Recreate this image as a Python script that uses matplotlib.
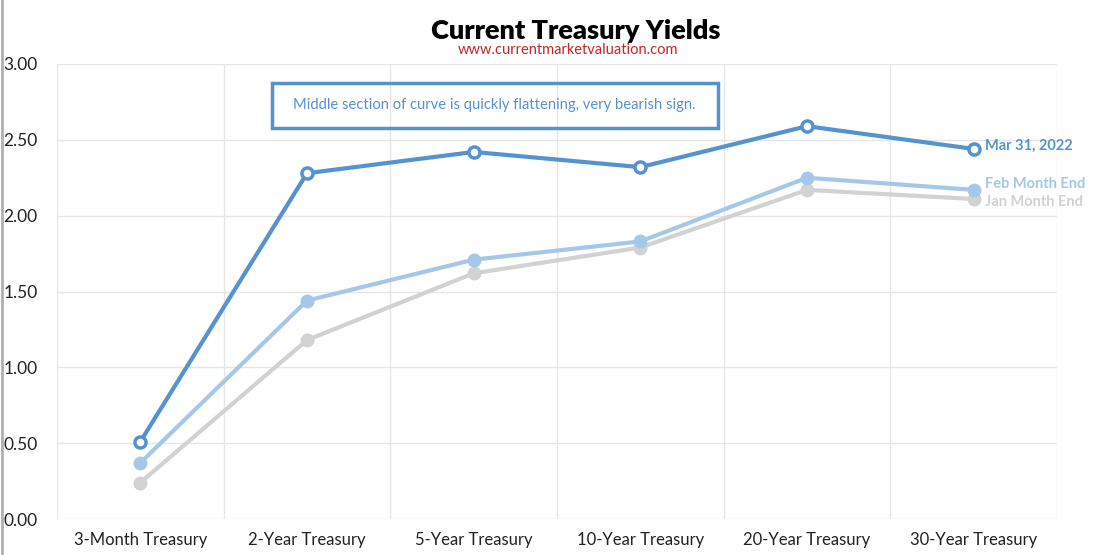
import numpy as np
import matplotlib.pyplot as plt
from matplotlib.patches import Rectangle

categories = ['3-Month Treasury', '2-Year Treasury', '5-Year Treasury',
              '10-Year Treasury', '20-Year Treasury', '30-Year Treasury']
mar_2022 = [0.51, 2.28, 2.42, 2.32, 2.59, 2.44]
feb_end = [0.37, 1.44, 1.71, 1.83, 2.25, 2.17]
jan_end = [0.24, 1.18, 1.62, 1.79, 2.17, 2.11]
series_labels = ['Mar 31, 2022', 'Feb Month End', 'Jan Month End']
yticks = [0, 0.5, 1.0, 1.5, 2.0, 2.5, 3.0]

c_mar = '#5593d0'
c_feb = '#a5c8ea'
c_jan = '#d2d2d2'

plt.rcParams['font.family'] = ['Lato', 'DejaVu Sans']

fig = plt.figure(figsize=(11.13, 5.55), dpi=100)
ax = fig.add_axes([57 / 1113, 1 - 519 / 555, 1000 / 1113, 455 / 555])

x = np.arange(len(categories))
ax.plot(x, jan_end, color=c_jan, lw=3, marker='o', ms=9, mfc=c_jan, mec=c_jan, zorder=3)
ax.plot(x, feb_end, color=c_feb, lw=3, marker='o', ms=9, mfc=c_feb, mec=c_feb, zorder=4)
ax.plot(x, mar_2022, color=c_mar, lw=3, marker='o', ms=8, mfc='white', mec=c_mar, mew=2.5, zorder=5)

# end labels
ax.text(x[-1] + 0.07, mar_2022[-1] + 0.02, series_labels[0], color=c_mar, fontsize=10.5,
        fontweight='bold', va='center', clip_on=False)
ax.text(x[-1] + 0.07, feb_end[-1] + 0.04, series_labels[1], color=c_feb, fontsize=10.5,
        fontweight='bold', va='center', clip_on=False)
ax.text(x[-1] + 0.07, jan_end[-1] - 0.02, series_labels[2], color=c_jan, fontsize=10.5,
        fontweight='bold', va='center', clip_on=False)

ax.set_xlim(-0.5, 5.5)
ax.set_ylim(0, 3.0)
ax.set_xticks(x)
ax.set_xticklabels(categories, fontsize=12, color='#222222')
ax.set_yticks(yticks)
ax.set_yticklabels(['%.2f' % v for v in yticks], fontsize=12.5, color='#222222')
ax.set_xticks(np.arange(-0.5, 6, 1), minor=True)
ax.grid(True, axis='y', color='#e6e6e6', lw=1)
ax.grid(True, axis='x', which='minor', color='#e6e6e6', lw=1)
ax.tick_params(axis='both', which='both', length=0)
ax.tick_params(axis='x', pad=9)
ax.tick_params(axis='y', pad=14)
for s in ax.spines.values():
    s.set_visible(False)

# annotation box
box = Rectangle((272 / 1113, 1 - 128 / 555), 446 / 1113, 45 / 555, transform=fig.transFigure,
                fill=False, edgecolor=c_mar, lw=2.5)
fig.patches.append(box)
fig.text(494 / 1113, 1 - 105 / 555, 'Middle section of curve is quickly flattening, very bearish sign.',
         color=c_mar, fontsize=10.6, ha='center', va='center')

fig.text(576 / 1113, 1 - 31 / 555, 'Current Treasury Yields', fontsize=19.5, fontweight='heavy',
         ha='center', va='center', color='black')
fig.text(568 / 1113, 1 - 50 / 555, 'www.currentmarketvaluation.com', fontsize=10.5,
         ha='center', va='center', color='#c8242b')

fig.add_artist(plt.Line2D([1.5 / 1113, 1.5 / 1113], [0, 1], color='#b0b0b0', lw=2))

fig.savefig('out.png', dpi=100)
